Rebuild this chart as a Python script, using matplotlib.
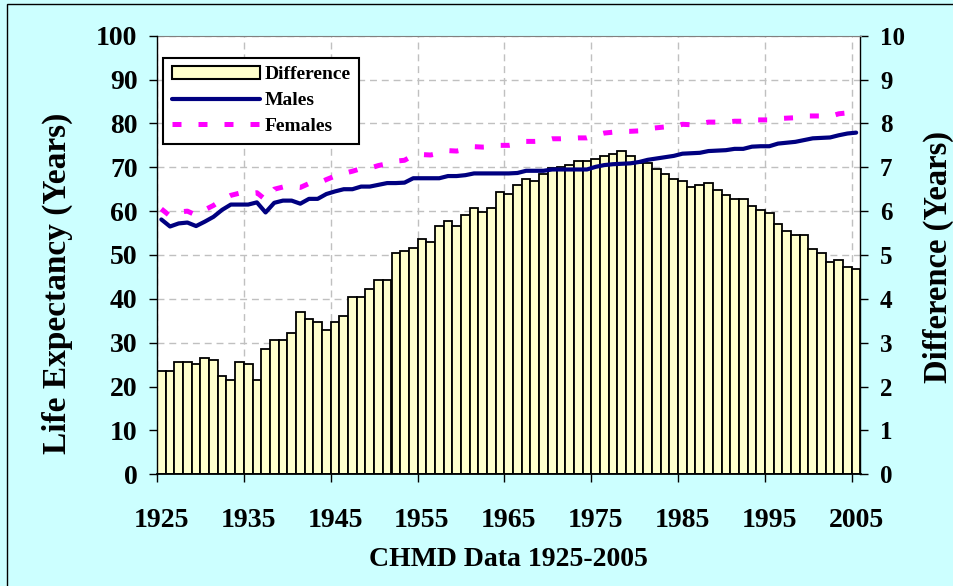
import matplotlib
matplotlib.use("Agg")
import matplotlib.pyplot as plt
from matplotlib.patches import Patch, Rectangle
from matplotlib.lines import Line2D
import numpy as np

plt.rcParams["font.family"] = ["Liberation Serif", "DejaVu Serif"]
plt.rcParams["font.weight"] = "bold"

years = list(range(1925, 2006))

males = [
    58.1, 56.5, 57.2, 57.4, 56.6, 57.6, 58.7, 60.3, 61.5, 61.5,   # 1925-1934
    61.5, 62.0, 59.7, 61.9, 62.4, 62.4, 61.7, 62.8, 62.8, 63.9,   # 1935-1944
    64.5, 65.0, 65.0, 65.6, 65.6, 66.0, 66.4, 66.4, 66.5, 67.5,   # 1945-1954
    67.5, 67.5, 67.5, 68.0, 68.0, 68.2, 68.6, 68.6, 68.6, 68.6,   # 1955-1964
    68.6, 68.7, 69.2, 69.2, 69.2, 69.5, 69.5, 69.5, 69.5, 69.5,   # 1965-1974
    70.1, 70.5, 70.7, 70.8, 70.9, 71.2, 71.7, 72.0, 72.3, 72.6,   # 1975-1984
    73.1, 73.2, 73.3, 73.7, 73.8, 73.9, 74.2, 74.2, 74.7, 74.8,   # 1985-1994
    74.8, 75.4, 75.6, 75.8, 76.2, 76.6, 76.7, 76.8, 77.3, 77.7,   # 1995-2004
    77.9,                                                         # 2005
]

females = [
    60.5, 58.9, 59.8, 60.0, 59.1, 60.3, 61.3, 62.6, 63.6, 64.1,
    64.0, 64.2, 62.6, 65.0, 65.5, 65.6, 65.4, 66.3, 66.3, 67.2,
    68.0, 68.6, 69.1, 69.7, 69.8, 70.4, 70.8, 71.4, 71.6, 72.7,
    72.9, 72.8, 73.2, 73.8, 73.7, 74.1, 74.7, 74.6, 74.7, 75.0,
    75.0, 75.3, 75.9, 75.9, 76.0, 76.5, 76.5, 76.6, 76.7, 76.7,
    77.3, 77.8, 78.0, 78.2, 78.2, 78.3, 78.8, 79.0, 79.2, 79.3,
    79.8, 79.7, 79.9, 80.3, 80.3, 80.3, 80.5, 80.5, 80.8, 80.8,
    80.8, 81.1, 81.2, 81.3, 81.7, 81.7, 81.7, 81.6, 82.2, 82.4,
    82.6,
]

difference = [
    2.36, 2.36, 2.56, 2.56, 2.51, 2.66, 2.61, 2.25, 2.14, 2.56,
    2.51, 2.15, 2.86, 3.07, 3.07, 3.23, 3.69, 3.54, 3.48, 3.28,
    3.48, 3.60, 4.05, 4.05, 4.22, 4.42, 4.42, 5.04, 5.09, 5.15,
    5.36, 5.30, 5.65, 5.78, 5.65, 5.91, 6.07, 5.97, 6.07, 6.44,
    6.38, 6.59, 6.74, 6.69, 6.84, 6.99, 7.01, 7.06, 7.15, 7.15,
    7.20, 7.26, 7.30, 7.36, 7.26, 7.09, 7.10, 6.96, 6.85, 6.74,
    6.69, 6.54, 6.59, 6.64, 6.49, 6.37, 6.28, 6.28, 6.12, 6.03,
    5.96, 5.71, 5.55, 5.46, 5.46, 5.14, 5.04, 4.83, 4.88, 4.73,
    4.68,
]

label_years = years[::10]

BG = "#CCFFFF"
BAR = "#FFFFCC"
NAVY = "#000080"
PINK = "#FF00FF"
GRID = "#C0C0C0"

W, H = 954, 586
fig = plt.figure(figsize=(W / 100, H / 100), dpi=100, facecolor=BG)

# plot area in pixels: x 157..860, y 36..474
l, r, t, b = 157, 860.5, 35.7, 474.3
ax = fig.add_axes([l / W, 1 - b / H, (r - l) / W, (b - t) / H])
axl = ax.twinx()

# bars (right axis) underneath, lines (left axis) on top
ax.set_facecolor("white")
ax.bar(years, difference, width=1.0, color=BAR, edgecolor="black",
       linewidth=1.3, zorder=2)
ax.set_ylim(0, 10)
ax.set_yticks(range(0, 11))
ax.yaxis.tick_right()
ax.yaxis.set_label_position("right")
ax.set_ylabel("Difference (Years)", fontsize=23.5, fontweight="bold")
ax.yaxis.set_label_coords(1.088, 0.495)

x = np.array(years)
axl.plot(x, males, color=NAVY, lw=3.0, solid_capstyle="round", zorder=3)
axl.plot(x, females, color=PINK, lw=3.6, ls=(0, (1.8, 3.4)),
         dash_capstyle="butt", zorder=3)
axl.set_ylim(0, 100)
axl.set_yticks(range(0, 101, 10))
axl.yaxis.tick_left()
axl.yaxis.set_label_position("left")
axl.set_ylabel("Life Expectancy (Years)", fontsize=24, fontweight="bold")
axl.yaxis.set_label_coords(-0.12, 0.436)

ax.set_xlim(years[0] - 0.5, years[-1] + 0.5)
ax.set_xticks([yr - 0.5 for yr in label_years])
ax.set_xticklabels([])
ax.set_xticks(label_years, minor=True)
ax.set_xticklabels([str(yr) for yr in label_years], minor=True)
ax.tick_params(axis="x", which="major", direction="out", length=6,
               width=1, color="black")
ax.tick_params(axis="x", which="minor", length=0, pad=24, labelsize=20)
ax.set_xlabel("CHMD Data 1925-2005", fontsize=20, fontweight="bold",
              labelpad=10)

ax.tick_params(axis="y", direction="out", length=6, width=1, pad=8,
               labelsize=18)
axl.tick_params(axis="y", direction="out", length=6, width=1, pad=8,
                labelsize=20)

# dashed grid behind the bars
ax.set_axisbelow(True)
ax.grid(True, which="major", axis="both", color=GRID, ls=(0, (5, 3.5)),
        lw=1.0)

for s in ("left", "top", "bottom", "right"):
    axl.spines[s].set_visible(False)
ax.spines["left"].set_visible(False)
ax.spines["top"].set_color("#808080")
ax.spines["bottom"].set_color("black")
ax.spines["right"].set_color("black")
ax.spines["bottom"].set_linewidth(1.3)
ax.spines["right"].set_linewidth(1.0)
axl.spines["left"].set_visible(True)
axl.spines["left"].set_color("black")
axl.spines["left"].set_linewidth(1.0)

handles = [
    Patch(facecolor=BAR, edgecolor="black", linewidth=1.5),
    Line2D([], [], color=NAVY, lw=3.0, solid_capstyle="round"),
    Line2D([], [], color=PINK, lw=3.6, ls=(0, (1.8, 3.4)),
           dash_capstyle="butt"),
]
leg = axl.legend(handles, ["Difference", "Males", "Females"],
                 loc="upper left", bbox_to_anchor=(0.009, 0.95),
                 borderaxespad=0, fontsize=14, frameon=True, fancybox=False,
                 handlelength=4.5, handleheight=0.6, handletextpad=0.25,
                 labelspacing=0.45, borderpad=0.45)
leg.get_frame().set_edgecolor("black")
leg.get_frame().set_linewidth(1.5)
leg.get_frame().set_facecolor("white")
leg.get_frame().set_alpha(1)
for txt in leg.get_texts():
    txt.set_fontweight("bold")

# thin outer border of the chart
fig.patches.append(Rectangle((7 / W, -0.01), 1.0, 1 - 4 / H + 0.01,
                             transform=fig.transFigure, fill=False,
                             edgecolor="black", linewidth=1.0))

fig.savefig("out.png", dpi=100, facecolor=BG)
